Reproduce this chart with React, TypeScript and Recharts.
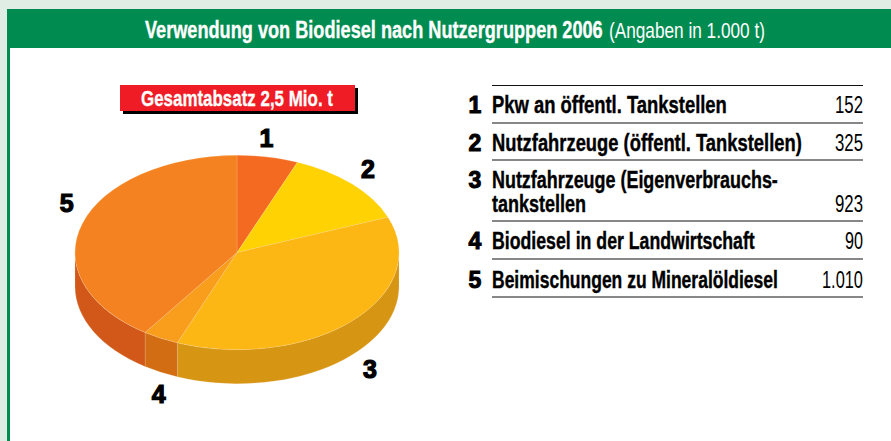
import { Pie, PieChart } from "recharts";

const sliceNames = ["1", "2", "3", "4", "5"];
const sliceValues = [152, 325, 923, 90, 1010];
const topColors = ["#f46a21", "#ffd204", "#fdb714", "#f99d1c", "#f58220"];
const wallColors = ["#c9551a", "#cca800", "#d69513", "#d26d13", "#d2581a"];

const tableRows = [
    { id: "1", lines: ["Pkw an öffentl. Tankstellen"], amount: "152" },
    { id: "2", lines: ["Nutzfahrzeuge (öffentl. Tankstellen)"], amount: "325" },
    { id: "3", lines: ["Nutzfahrzeuge (Eigenverbrauchs-", "tankstellen"], amount: "923" },
    { id: "4", lines: ["Biodiesel in der Landwirtschaft"], amount: "90" },
    { id: "5", lines: ["Beimischungen zu Mineralöldiesel"], amount: "1.010" },
];

const pieData = sliceNames.map((name, i) => ({ name, value: sliceValues[i], fill: topColors[i], wall: wallColors[i] }));

// layout of the tilted disc
const TILT = 0.6;
const DEPTH = 34;
const FONT = "'Liberation Sans Narrow', 'Liberation Sans', sans-serif";
const NUM_FONT = "'Liberation Sans', sans-serif";

// label nudges per slice, on top of the radial position
const labelNudge = [[-5, 0], [2, -1], [5, 0], [7, 5], [3, -15]];
const lineWidths = [[235], [310], [286, 94], [263], [286]];
const amountWidths = [28, 28, 28, 18, 41];
const ruleYs = [85.5, 123, 160, 221, 259, 297];
const textYs = [[113], [151], [188, 212], [249], [288]];

const pt = (cx: number, cy: number, r: number, a: number) => {
    const rad = (a * Math.PI) / 180;
    return [cx + r * Math.cos(rad), cy - r * TILT * Math.sin(rad)];
};

// Sector drawn as a tilted disc slice with its front wall, angles come from the Pie.
const DiscSlice = (props: any) => {
    const { cx, cy, outerRadius: r, startAngle, endAngle, fill, wall } = props;
    const ry = r * TILT;
    const [sx, sy] = pt(cx, cy, r, startAngle);
    const [ex, ey] = pt(cx, cy, r, endAngle);
    const large = startAngle - endAngle > 180 ? 1 : 0;

    // only the part of the rim facing the viewer has a wall
    const hi = Math.min(startAngle, 0);
    const lo = Math.max(endAngle, -180);
    let wallPath = null;
    if (hi > lo) {
        const [ax, ay] = pt(cx, cy, r, hi);
        const [bx, by] = pt(cx, cy, r, lo);
        wallPath = (
            <path
                d={`M${ax},${ay} A${r},${ry} 0 0 1 ${bx},${by} L${bx},${by + DEPTH} A${r},${ry} 0 0 0 ${ax},${ay + DEPTH} Z`}
                fill={wall}
                stroke="#f3d9b0"
                strokeOpacity={0.5}
                strokeWidth={0.4}
            />
        );
    }
    return (
        <g>
            {wallPath}
            <path d={`M${cx},${cy} L${sx},${sy} A${r},${ry} 0 ${large} 1 ${ex},${ey} Z`} fill={fill} stroke="#fbe3b8" strokeOpacity={0.5} strokeWidth={0.4} />
        </g>
    );
};

const SliceLabel = (props: any) => {
    const { cx, cy, outerRadius: r, midAngle, index, name } = props;
    const rad = (midAngle * Math.PI) / 180;
    const x = cx + r * 1.12 * Math.cos(rad);
    const y = cy - r * TILT * 1.2 * Math.sin(rad);
    const front = Math.sin(rad) < 0 ? DEPTH : 0;
    return (
        <text
            x={x + labelNudge[index][0]}
            y={y + front + labelNudge[index][1] + 9}
            textAnchor="middle"
            fontFamily={NUM_FONT}
            fontWeight={700}
            fontSize={25}
            fill="#000"
            stroke="#000"
            strokeWidth={1.2}
        >
            {name}
        </text>
    );
};

const measureCtx = document.createElement("canvas").getContext("2d");

// Text squeezed to the width it has in the picture, so its box stays the real one.
const Fit = ({ x, y, w, size = 23, weight = 700, fill = "#000", bold = 0.3, children }: any) => {
    measureCtx!.font = `${weight} ${size}px ${FONT}`;
    const natural = measureCtx!.measureText(children).width;
    return (
        <text
            transform={`translate(${x},${y}) scale(${w / natural},1)`}
            fontFamily={FONT}
            fontWeight={weight}
            fontSize={size}
            fill={fill}
            stroke={bold ? fill : "none"}
            strokeWidth={bold}
        >
            {children}
        </text>
    );
};

export default function App() {
    return (
        <div style={{ position: "fixed", left: 0, top: 0, width: 891, height: 441, background: "#e0ede5", overflow: "hidden" }}>
            <div style={{ position: "absolute", left: 7, top: 9, width: 884, height: 432, background: "#fff", borderLeft: "3px solid #008c50", boxSizing: "border-box" }} />
            <div style={{ position: "absolute", left: 7, top: 9, width: 884, height: 39, background: "#008c50" }} />
            <div style={{ position: "absolute", left: 0, top: 0 }}>
                <PieChart width={891} height={441} margin={{ top: 0, right: 0, bottom: 0, left: 0 }}>
                    <Pie
                        data={pieData}
                        dataKey="value"
                        nameKey="name"
                        cx={237}
                        cy={252.5}
                        outerRadius={162}
                        innerRadius={0}
                        startAngle={90}
                        endAngle={-270}
                        paddingAngle={0}
                        stroke="none"
                        isAnimationActive={false}
                        shape={DiscSlice}
                        label={SliceLabel}
                        labelLine={false}
                    />
                </PieChart>
            </div>
            <svg width={891} height={441} style={{ position: "absolute", left: 0, top: 0 }}>
                <Fit x={145} y={38} w={458} size={24} fill="#fff" bold={0.35}>
                    Verwendung von Biodiesel nach Nutzergruppen 2006
                </Fit>
                <Fit x={609} y={38} w={156} size={22} weight={400} fill="#fff" bold={0}>
                    (Angaben in 1.000 t)
                </Fit>

                <rect x={123} y={88} width={235} height={26} fill="#000" />
                <rect x={120} y={85} width={235} height={26} fill="#ef1c25" />
                <Fit x={141} y={106} w={192} size={22} fill="#fff">
                    Gesamtabsatz 2,5 Mio. t
                </Fit>

                {ruleYs.map((y) => (
                    <line key={y} x1={492} x2={863} y1={y} y2={y} stroke="#111" strokeWidth={1} />
                ))}
                {tableRows.map((row, i) => (
                    <g key={row.id}>
                        <text x={475} y={textYs[i][0]} textAnchor="middle" fontFamily={NUM_FONT} fontWeight={700} fontSize={23} fill="#000" stroke="#000" strokeWidth={1}>
                            {row.id}
                        </text>
                        {row.lines.map((line, j) => (
                            <Fit key={line} x={492} y={textYs[i][j]} w={lineWidths[i][j]} size={24} bold={0.4}>
                                {line}
                            </Fit>
                        ))}
                        <Fit x={863 - amountWidths[i]} y={textYs[i][row.lines.length - 1]} w={amountWidths[i]} size={24} weight={400} bold={0}>
                            {row.amount}
                        </Fit>
                    </g>
                ))}
            </svg>
        </div>
    );
}
